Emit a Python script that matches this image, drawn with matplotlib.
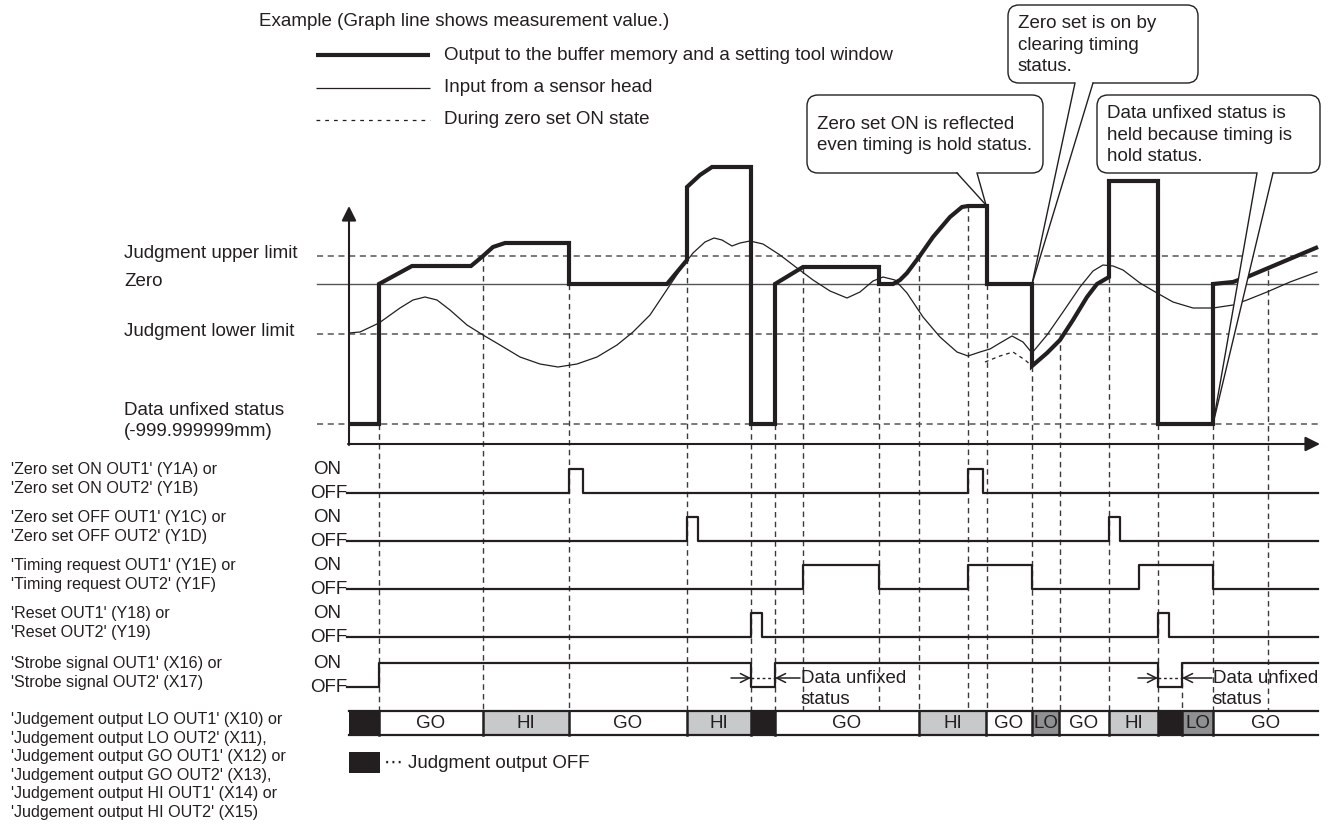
import matplotlib.pyplot as plt
from matplotlib.patches import FancyBboxPatch, Rectangle, Polygon

plt.rcParams['font.family'] = ['Liberation Sans', 'DejaVu Sans']

INK = '#231f20'
GUIDE = '#3a3a3a'

# --- measurement graph (canvas units: 1 unit = 1 px, y grows downward) ---
level_names = ['Judgment upper limit', 'Zero', 'Judgment lower limit',
               'Data unfixed status\n(-999.999999mm)']
level_y = [256, 284, 334, 424]

# times marked with dashed guides and the level where each guide starts
event_t = [379, 483, 569, 687, 751, 775, 803, 879, 919, 968, 987,
           1032, 1060, 1109, 1158, 1182, 1213, 1268]
event_top = [424, 256, 284, 258, 424, 424, 268, 268, 256, 206, 284,
             366, 335, 277, 424, 663, 424, 270]

# output to buffer memory (thick line)
output_t = [349, 379, 379, 412, 471, 483, 493, 505, 569, 569, 667, 687, 687,
            700, 712, 751, 751, 775, 775, 803, 879, 879, 893, 900, 907, 919,
            933, 950, 962, 968, 987, 987, 1032, 1032, 1047, 1060, 1073, 1087,
            1097, 1109, 1109, 1158, 1158, 1213, 1213, 1233, 1247, 1318]
output_y = [424, 424, 284, 266, 266, 256, 247, 243, 243, 284, 284, 260, 187,
            175, 167, 167, 424, 424, 284, 267, 267, 284, 284, 280, 273, 257,
            237, 217, 207, 206, 206, 284, 284, 366, 353, 340, 320, 297,
            284, 277, 181, 181, 424, 424, 284, 282, 277, 247]

# input from sensor head (thin line)
sensor_t = [349, 360, 379, 400, 413, 425, 437, 450, 467, 483, 500, 520, 540,
            558, 577, 597, 617, 633, 650, 660, 680, 693, 705, 714, 722, 732,
            740, 750, 763, 780, 797, 813, 830, 847, 860, 873, 883, 895, 907,
            923, 940, 957, 968, 980, 990, 1000, 1012, 1023, 1032, 1047, 1063,
            1080, 1093, 1103, 1113, 1123, 1140, 1157, 1173, 1193, 1213, 1233,
            1247, 1267, 1290, 1317]
sensor_y = [333, 332, 323, 308, 300, 297, 300, 310, 325, 335, 345, 357, 364,
            367, 364, 357, 345, 332, 315, 300, 270, 253, 242, 238, 240, 246,
            243, 241, 244, 255, 268, 280, 291, 298, 292, 281, 277, 280, 293,
            317, 337, 352, 356, 352, 349, 343, 336, 342, 353, 335, 312,
            287, 271, 265, 266, 270, 283, 293, 302, 308, 308, 305,
            300, 292, 282, 272]

# during zero set ON state (dashed)
zeroset_t = [985, 1000, 1013, 1025, 1032]
zeroset_y = [362, 356, 352, 360, 366]

# --- I/O timing rows: label, edge times (toggle points) ---
signal_labels = ["'Zero set ON OUT1' (Y1A) or\n'Zero set ON OUT2' (Y1B)",
                 "'Zero set OFF OUT1' (Y1C) or\n'Zero set OFF OUT2' (Y1D)",
                 "'Timing request OUT1' (Y1E) or\n'Timing request OUT2' (Y1F)",
                 "'Reset OUT1' (Y18) or\n'Reset OUT2' (Y19)",
                 "'Strobe signal OUT1' (X16) or\n'Strobe signal OUT2' (X17)"]
signal_edges = [[569, 583, 968, 983],
                [687, 698, 1109, 1120],
                [803, 879, 968, 1032, 1139, 1213],
                [751, 762, 1158, 1169],
                [379, 751, 775, 1158, 1182]]
row_off_y = [493, 541, 589, 637, 687]

# --- judgment output bar ---
judge_label = ("'Judgement output LO OUT1' (X10) or\n'Judgement output LO OUT2' (X11),\n"
               "'Judgement output GO OUT1' (X12) or\n'Judgement output GO OUT2' (X13),\n"
               "'Judgement output HI OUT1' (X14) or\n'Judgement output HI OUT2' (X15)")
judge_edges = [349, 379, 483, 569, 687, 751, 775, 919, 986, 1032, 1059,
               1109, 1158, 1182, 1213, 1318]
judge_state = ['OFF', 'GO', 'HI', 'GO', 'HI', 'OFF', 'GO', 'HI', 'GO', 'LO',
               'GO', 'HI', 'OFF', 'LO', 'GO']
state_color = {'OFF': INK, 'GO': 'white', 'HI': '#c8c9ca', 'LO': '#8f9092'}

# data unfixed markers on strobe row: (low start, low end, text x)
unfixed_marks = [(751, 775, 800), (1158, 1182, 1212)]

# callouts: text, box (x0, y0, x1, y1), tail base x pair, tip
callout_text = ['Zero set ON is reflected\neven timing is hold status.',
                'Zero set is on by\nclearing timing\nstatus.',
                'Data unfixed status is\nheld because timing is\nhold status.']
callout_box = [(807, 95, 1043, 173), (1008, 5, 1198, 83), (1097, 95, 1320, 173)]
callout_base = [(957, 977), (1075, 1093), (1257, 1273)]
callout_tip = [(986, 205), (1032, 284), (1213, 424)]


def main() -> None:
    fig = plt.figure(figsize=(13.33, 8.25), dpi=100)
    ax = fig.add_axes([0, 0, 1, 1])
    ax.set_xlim(0, 1333)
    ax.set_ylim(825, 0)
    ax.axis('off')

    fs = 13.5
    fs_small = 11.6
    dash = (0, (4, 3))

    # legend at top
    ax.text(259, 22, 'Example (Graph line shows measurement value.)', fontsize=fs,
            color=INK, va='center')
    leg = [('Output to the buffer memory and a setting tool window', 3.0, '-', 55),
           ('Input from a sensor head', 0.9, '-', 88),
           ('During zero set ON state', 0.9, (0, (3, 4)), 120)]
    for label, lw, ls, y in leg:
        ax.plot([316, 430], [y, y], color=INK, lw=lw, ls=ls, solid_capstyle='butt')
        ax.text(444, y, label, fontsize=fs, color=INK, va='center')

    # level labels and reference lines
    for name, y in zip(level_names, level_y):
        ax.text(124, y - 2 if '\n' not in name else y - 3, name, fontsize=fs,
                color=INK, va='center', linespacing=1.33)
        if name == 'Zero':
            ax.plot([317, 1318], [y, y], color='#555555', lw=1.0)
        else:
            ax.plot([317, 1318], [y, y], color='#555555', lw=1.1, ls=dash)

    # event guides
    for t, top in zip(event_t, event_top):
        ax.plot([t, t], [top, 711], color=GUIDE, lw=1.0, ls=dash, zorder=1)

    # axes arrows
    ax.annotate('', xy=(349, 206), xytext=(349, 445),
                arrowprops=dict(arrowstyle='-|>', color=INK, lw=1.5,
                                mutation_scale=22, shrinkA=0, shrinkB=0))
    ax.annotate('', xy=(1320, 444), xytext=(348, 444),
                arrowprops=dict(arrowstyle='-|>', color=INK, lw=1.5,
                                mutation_scale=22, shrinkA=0, shrinkB=0))

    # waveforms
    ax.plot(sensor_t, sensor_y, color=INK, lw=0.9, zorder=3)
    ax.plot(zeroset_t, zeroset_y, color=INK, lw=0.9, ls=(0, (3, 3)), zorder=3)
    ax.plot(output_t, output_y, color=INK, lw=3.0, zorder=4,
            solid_joinstyle='miter', solid_capstyle='butt')

    # timing rows
    for label, edges, y_off in zip(signal_labels, signal_edges, row_off_y):
        y_on = y_off - 24
        xs, ys = [347], [y_off]
        state = False
        for e in edges:
            cur = y_on if state else y_off
            state = not state
            xs += [e, e]
            ys += [cur, y_on if state else y_off]
        xs.append(1318)
        ys.append(y_on if state else y_off)
        ax.plot(xs, ys, color=INK, lw=1.6, zorder=3)
        ax.text(313, y_on, 'ON', fontsize=fs, color=INK, va='center')
        ax.text(347, y_off + 1, 'OFF', fontsize=fs, color=INK, va='center', ha='right')
        ax.text(11, y_off - 14, label, fontsize=fs_small, color=INK,
                va='center', linespacing=1.3)

    # data unfixed markers on strobe row
    y_mark = 678
    for lo, hi, tx in unfixed_marks:
        ax.annotate('', xy=(lo, y_mark), xytext=(lo - 20, y_mark),
                    arrowprops=dict(arrowstyle='->', color=INK, lw=1.1,
                                    mutation_scale=16, shrinkA=0, shrinkB=0))
        ax.annotate('', xy=(hi, y_mark), xytext=(tx, y_mark),
                    arrowprops=dict(arrowstyle='->', color=INK, lw=1.1,
                                    mutation_scale=16, shrinkA=0, shrinkB=0))
        ax.plot([lo, hi], [y_mark, y_mark], color=INK, lw=1.0, ls=(0, (2, 2)))
        ax.text(tx + 1, 689, 'Data unfixed\nstatus', fontsize=fs, color=INK,
                va='center', linespacing=1.3)

    # judgment bar
    top, bot = 711, 735
    for x0, x1, st in zip(judge_edges[:-1], judge_edges[1:], judge_state):
        ax.add_patch(Rectangle((x0, top), x1 - x0, bot - top, facecolor=state_color[st],
                               edgecolor='none', zorder=2))
        if st != 'OFF':
            ax.text((x0 + x1) / 2, (top + bot) / 2 + 1, st, fontsize=fs, color=INK,
                    ha='center', va='center', zorder=5)
    for x in judge_edges[1:-1]:
        ax.plot([x, x], [top, bot], color=INK, lw=1.8, zorder=3)
    ax.plot([349, 1318], [top, top], color=INK, lw=1.6, zorder=3)
    ax.plot([349, 1318], [bot, bot], color=INK, lw=1.6, zorder=3)
    ax.text(11, 766, judge_label, fontsize=fs_small, color=INK, va='center',
            linespacing=1.3)

    ax.add_patch(Rectangle((349, 752), 31, 21, facecolor=INK, edgecolor='none'))
    ax.text(384, 763, '\u22ef Judgment output OFF', fontsize=fs, color=INK,
            va='center', family=['Liberation Sans', 'DejaVu Sans'])

    # callouts
    for text, box, base, tip in zip(callout_text, callout_box, callout_base, callout_tip):
        x0, y0, x1, y1 = box
        ax.add_patch(FancyBboxPatch((x0, y0), x1 - x0, y1 - y0,
                                    boxstyle='round,pad=0,rounding_size=11',
                                    facecolor='white', edgecolor=INK, lw=1.0, zorder=6))
        ax.add_patch(Polygon([(base[0], y1 - 1.5), (base[1], y1 - 1.5), tip],
                             closed=True, facecolor='white', edgecolor='none', zorder=7))
        ax.plot([base[0], tip[0]], [y1, tip[1]], color=INK, lw=1.0, zorder=8)
        ax.plot([base[1], tip[0]], [y1, tip[1]], color=INK, lw=1.0, zorder=8)
        ax.text(x0 + 10, (y0 + y1) / 2 + 1, text, fontsize=fs, color=INK, va='center',
                linespacing=1.33, zorder=9)

    fig.savefig('out.png', dpi=100)
    plt.close(fig)


if __name__ == '__main__':
    main()
